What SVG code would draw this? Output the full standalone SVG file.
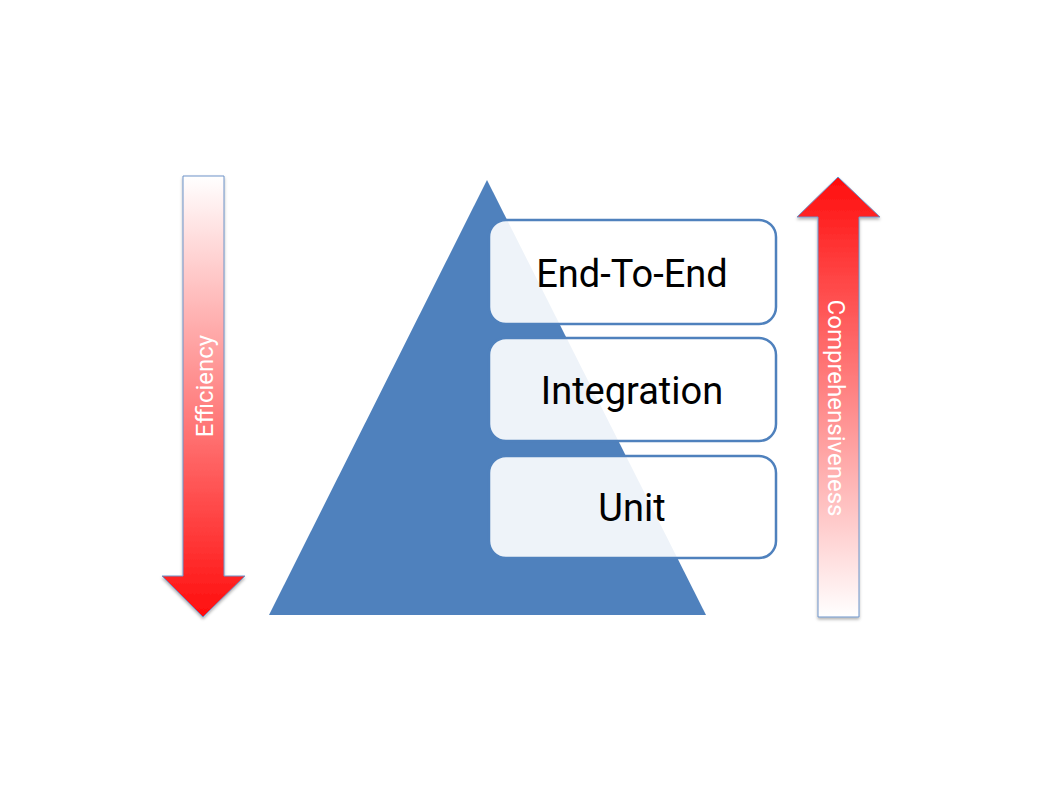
<svg xmlns="http://www.w3.org/2000/svg" width="1042" height="790" viewBox="0 0 1042 790">
<defs>
<linearGradient id="gDown" x1="0" y1="0" x2="0" y2="1">
<stop offset="0" stop-color="#ffffff"/>
<stop offset="1" stop-color="#ff0d0d"/>
</linearGradient>
<linearGradient id="gUp" x1="0" y1="1" x2="0" y2="0">
<stop offset="0" stop-color="#ffffff"/>
<stop offset="1" stop-color="#ff0d0d"/>
</linearGradient>
<filter id="sh" x="-20%" y="-5%" width="140%" height="115%">
<feDropShadow dx="0" dy="2" stdDeviation="1.5" flood-color="#000" flood-opacity="0.3"/>
</filter>
</defs>
<style>
.box{fill:#ffffff;fill-opacity:0.9;stroke:#4f81bd;stroke-width:2.5}
.lbl{font-family:Roboto,"Liberation Sans",sans-serif;font-size:38px;fill:#000;text-anchor:middle}
.arr{stroke:#6f93c8;stroke-width:1}
.al{font-family:Roboto,"Liberation Sans",sans-serif;font-size:24px;fill:#ffffff;text-anchor:middle}
</style>
<rect width="1042" height="790" fill="#ffffff"/>
<g id="efficiency">
<path class="arr" filter="url(#sh)" fill="url(#gDown)" d="M183,176 L224,176 L224,576 L245,576 L203,617 L162,576 L183,576 Z"/>
<text class="al" transform="translate(213,386) rotate(-90)">Efficiency</text>
</g>
<g id="comprehensiveness">
<path class="arr" filter="url(#sh)" fill="url(#gUp)" d="M838,177 L880,217 L859,217 L859,617 L818,617 L818,217 L797,217 Z"/>
<text class="al" transform="translate(828,408) rotate(90)">Comprehensiveness</text>
</g>
<g id="pyramid">
<polygon points="487,180 706,615 269,615" fill="#4f81bd"/>
</g>
<g id="end-to-end">
<rect class="box" x="489" y="220" width="287" height="104" rx="17"/>
<text class="lbl" x="632" y="287">End-To-End</text>
</g>
<g id="integration">
<rect class="box" x="489" y="338" width="287" height="103" rx="17"/>
<text class="lbl" x="632" y="404">Integration</text>
</g>
<g id="unit">
<rect class="box" x="489" y="456" width="287" height="102" rx="17"/>
<text class="lbl" x="632" y="521">Unit</text>
</g>
<g id="connectors"></g>
</svg>
